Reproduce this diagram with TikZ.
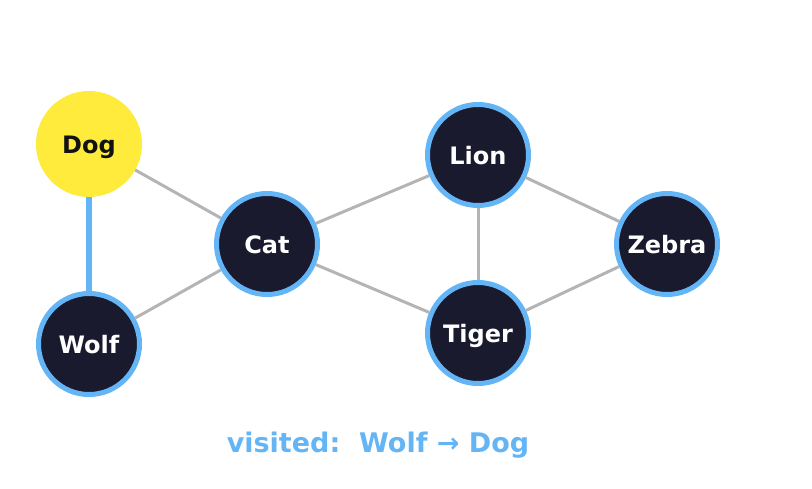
\documentclass[tikz,border=0pt]{standalone}
\usepackage{fontspec}
\setmainfont{DejaVu Sans}
\definecolor{nodefill}{HTML}{1A1A2E}
\definecolor{visblue}{HTML}{64B5F6}
\definecolor{curyellow}{HTML}{FFEB3B}
\definecolor{edgegray}{HTML}{B4B4B4}
\tikzset{
  animal/.style={circle,minimum size=101pt,inner sep=0pt,line width=5pt,
    draw=visblue,fill=nodefill,text=white,text height=21pt,text depth=2.5pt,
    font=\fontsize{24}{28}\selectfont\bfseries},
  current/.style={animal,draw=curyellow,fill=curyellow,text=black!93},
  edge/.style={edgegray,line width=3pt},
  treeedge/.style={visblue,line width=6pt}
}
\begin{document}
\begin{tikzpicture}[x=1pt,y=-1pt]
  \useasboundingbox (0,0) rectangle (812,489);
  \node[current] (dog) at (89,144) {Dog};
  \node[animal] (wolf) at (89,344) {Wolf};
  \node[animal] (cat) at (267,244) {Cat};
  \node[animal] (lion) at (478,155) {Lion};
  \node[animal] (tiger) at (478,333) {Tiger};
  \node[animal] (zebra) at (667,244) {Zebra};
  % edges
  \draw[edge] (dog) -- (cat);
  \draw[edge] (wolf) -- (cat);
  \draw[edge] (cat) -- (lion);
  \draw[edge] (cat) -- (tiger);
  \draw[edge] (lion) -- (tiger);
  \draw[edge] (lion) -- (zebra);
  \draw[edge] (tiger) -- (zebra);
  \draw[treeedge] (dog) -- (wolf);
  \node[text=visblue,font=\fontsize{27}{32}\selectfont\bfseries,anchor=base] (visited) at (378,452) {visited:\ \ Wolf → Dog};
\end{tikzpicture}
\end{document}
